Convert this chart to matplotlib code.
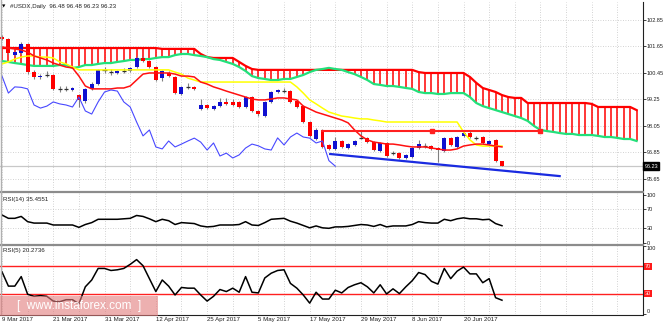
import matplotlib
matplotlib.use("Agg")
import matplotlib.pyplot as plt
from matplotlib.patches import Rectangle
from matplotlib.lines import Line2D
import numpy as np

plt.rcParams['font.family'] = ['Liberation Sans', 'DejaVu Sans']

# ---- daily USDX bars ----
opens = [102.08, 101.99, 101.26, 101.36, 101.76, 100.49, 100.27, 100.40, 100.36, 99.73,
         99.72, 99.68, 99.45, 99.18, 99.73, 99.95, 100.59, 100.50, 100.45, 100.54,
         100.54, 100.72, 101.13, 100.99, 100.72, 100.22, 100.45, 100.27, 99.50, 99.82,
         99.82, 98.82, 99.00, 98.82, 98.95, 99.14, 99.14, 99.14, 98.91, 99.36,
         98.73, 98.50, 99.14, 99.59, 99.65, 99.63, 99.18, 98.95, 98.23, 97.46,
         97.87, 97.19, 97.01, 97.37, 97.05, 97.19, 97.51, 97.51, 97.32, 96.92,
         97.28, 96.83, 96.83, 96.60, 96.65, 97.05, 97.14, 97.14, 97.05, 96.92,
         97.51, 97.10, 97.60, 97.73, 97.51, 97.55, 97.23, 97.42, 96.48]
highs = [102.15, 102.05, 101.45, 101.85, 101.82, 100.60, 100.40, 100.52, 100.42, 99.85,
         99.86, 99.82, 99.50, 99.78, 100.02, 100.64, 100.70, 100.62, 100.60, 100.68,
         100.74, 101.20, 101.20, 101.04, 100.78, 100.60, 100.52, 100.32, 99.88, 100.00,
         99.86, 99.27, 99.05, 99.00, 99.30, 99.30, 99.25, 99.20, 99.42, 99.40,
         98.78, 99.20, 99.65, 99.74, 99.78, 99.68, 99.22, 99.00, 98.28, 97.95,
         97.92, 97.24, 97.55, 97.42, 97.28, 97.42, 97.80, 97.56, 97.37, 97.32,
         97.33, 96.92, 96.88, 96.78, 97.10, 97.40, 97.26, 97.19, 97.10, 97.55,
         97.56, 97.60, 97.87, 97.80, 97.60, 97.60, 97.42, 97.46, 96.48]
lows = [101.94, 101.30, 101.20, 101.30, 100.40, 100.20, 100.20, 100.26, 99.66, 99.60,
        99.62, 99.62, 98.91, 99.10, 99.68, 99.90, 100.45, 100.38, 100.40, 100.44,
        100.48, 100.68, 100.94, 100.66, 100.08, 100.10, 100.26, 99.48, 99.44, 99.72,
        99.68, 98.78, 98.80, 98.76, 98.90, 99.00, 98.95, 98.86, 98.86, 98.68,
        98.52, 98.45, 99.10, 99.55, 99.55, 99.10, 98.86, 98.18, 97.55, 97.42,
        97.05, 96.96, 96.96, 97.05, 97.00, 97.14, 97.44, 97.28, 96.92, 96.88,
        96.64, 96.74, 96.55, 96.56, 96.60, 97.00, 97.05, 96.96, 96.42, 96.88,
        97.14, 97.05, 97.55, 97.50, 97.42, 97.23, 97.19, 96.42, 96.23]
closes = [101.99, 101.36, 101.40, 101.76, 100.49, 100.27, 100.31, 100.38, 99.73, 99.71,
          99.74, 99.77, 99.23, 99.73, 99.95, 100.59, 100.57, 100.48, 100.54, 100.56,
          100.68, 101.13, 100.99, 100.72, 100.13, 100.54, 100.31, 99.54, 99.82, 99.80,
          99.73, 99.00, 98.86, 98.95, 99.14, 99.05, 99.00, 98.91, 99.36, 98.73,
          98.59, 99.14, 99.59, 99.68, 99.63, 99.14, 98.91, 98.23, 97.60, 97.87,
          97.10, 97.01, 97.37, 97.10, 97.23, 97.37, 97.50, 97.32, 96.96, 97.28,
          96.69, 96.82, 96.60, 96.74, 97.05, 97.23, 97.15, 97.01, 96.96, 97.51,
          97.19, 97.55, 97.73, 97.55, 97.50, 97.28, 97.37, 96.48, 96.23]

date_bars = [0, 8, 16, 24, 32, 40, 48, 56, 64, 72]
date_labels = ["9 Mar 2017", "21 Mar 2017", "31 Mar 2017", "12 Apr 2017", "25 Apr 2017",
               "5 May 2017", "17 May 2017", "29 May 2017", "8 Jun 2017", "20 Jun 2017"]

# ---- Ichimoku Kinko Hyo (9, 26, 52) ----
tenkan = [101.63, 101.58, 101.54, 101.49, 101.40, 101.22, 101.13, 101.04, 100.90, 100.81,
          100.72, 100.68, 100.31, 99.86, 99.73, 99.73, 99.73, 99.73, 99.77, 99.77,
          99.86, 100.13, 100.40, 100.45, 100.45, 100.45, 100.45, 100.40, 100.31, 100.31,
          100.27, 100.04, 99.95, 99.82, 99.73, 99.63, 99.54, 99.45, 99.36, 99.27,
          99.23, 99.23, 99.27, 99.32, 99.32, 99.27, 99.23, 98.95, 98.82, 98.68,
          98.59, 98.50, 98.41, 98.32, 98.19, 97.87, 97.60, 97.42, 97.32, 97.28,
          97.23, 97.23, 97.19, 97.14, 97.10, 97.10, 97.10, 97.05, 97.01, 96.96,
          96.96, 97.01, 97.14, 97.19, 97.23, 97.23, 97.19, 97.14, 97.10]
kijun = [100.86, 100.95, 101.08, 101.17, 101.22, 101.22, 101.17, 101.17, 101.13, 100.95,
         100.86, 100.72, 100.59, 100.59, 100.59, 100.59, 100.59, 100.59, 100.59, 100.59,
         100.59, 100.59, 100.59, 100.59, 100.59, 100.59, 100.59, 100.49, 100.40, 100.22,
         100.13, 100.04, 100.04, 100.04, 100.04, 100.04, 100.04, 100.04, 100.04, 100.04,
         100.04, 100.04, 100.04, 100.04, 100.04, 100.04, 99.82, 99.54, 99.23, 99.05,
         98.86, 98.68, 98.59, 98.50, 98.46, 98.41, 98.37, 98.37, 98.32, 98.28,
         98.23, 98.23, 98.23, 98.23, 98.23, 98.23, 98.23, 98.23, 98.23, 98.23,
         98.23, 98.23, 97.78, 97.42, 97.19, 97.14, 97.14, 97.14, 97.14]
# leading spans, already projected 26 bars ahead (bar 0 .. bar 99)
senkou_a = [100.99, 100.95, 100.90, 100.86, 100.81, 100.77, 100.77, 100.77, 100.77, 100.81,
            100.81, 100.68, 100.72, 100.81, 100.81, 100.86, 100.90, 100.90, 100.95, 100.99,
            101.04, 101.04, 101.08, 101.08, 101.13, 101.17, 101.17, 101.26, 101.31, 101.31,
            101.26, 101.22, 101.17, 101.08, 101.04, 100.95, 100.86, 100.72, 100.54, 100.31,
            100.22, 100.18, 100.13, 100.13, 100.18, 100.18, 100.27, 100.36, 100.49, 100.59,
            100.63, 100.68, 100.63, 100.59, 100.49, 100.40, 100.27, 100.13, 99.95, 99.91,
            99.86, 99.86, 99.82, 99.77, 99.73, 99.59, 99.54, 99.54, 99.50, 99.50,
            99.54, 99.54, 99.54, 99.36, 99.09, 98.95, 98.86, 98.77, 98.68, 98.59,
            98.50, 98.41, 98.28, 98.05, 97.87, 97.82, 97.78, 97.73, 97.69, 97.69,
            97.64, 97.64, 97.64, 97.60, 97.55, 97.55, 97.51, 97.46, 97.46, 97.37]
senkou_b = [101.58, 101.58, 101.58, 101.58, 101.58, 101.58, 101.58, 101.58, 101.58, 101.58,
            101.58, 101.58, 101.58, 101.58, 101.58, 101.58, 101.58, 101.58, 101.58, 101.58,
            101.58, 101.58, 101.58, 101.58, 101.58, 101.54, 101.54, 101.54, 101.54, 101.54,
            101.54, 101.31, 101.17, 101.13, 101.13, 101.13, 101.13, 100.95, 100.77, 100.63,
            100.59, 100.59, 100.59, 100.59, 100.59, 100.59, 100.59, 100.59, 100.59, 100.59,
            100.59, 100.59, 100.59, 100.59, 100.59, 100.59, 100.59, 100.59, 100.59, 100.59,
            100.59, 100.59, 100.59, 100.59, 100.59, 100.49, 100.45, 100.45, 100.45, 100.45,
            100.45, 100.45, 100.45, 100.27, 100.00, 99.77, 99.68, 99.59, 99.45, 99.36,
            99.32, 99.32, 99.09, 99.09, 99.09, 99.09, 99.09, 99.09, 99.09, 99.09,
            99.09, 99.09, 99.05, 98.91, 98.91, 98.91, 98.91, 98.91, 98.91, 98.77]
chikou_shift = 26

# ---- oscillators ----
rsi14 = [58, 51, 51, 55, 44, 41, 41, 41, 37, 37,
         37, 37, 32, 38, 42, 49, 49, 49, 49, 50,
         51, 57, 55, 50, 44, 49, 46, 38, 42, 41,
         40, 35, 33, 34, 37, 37, 37, 38, 44, 37,
         36, 42, 49, 50, 51, 45, 41, 36, 31, 35,
         31, 30, 33, 33, 34, 36, 38, 37, 34, 38,
         33, 35, 35, 35, 38, 44, 42, 41, 41, 49,
         46, 50, 52, 50, 50, 48, 49, 40, 35.4551]
rsi5 = [62, 41, 41, 55, 29, 26, 27, 26, 19, 18,
        21, 21, 15, 40, 50, 67, 67, 64, 65, 67,
        73, 80, 71, 52, 33, 50, 41, 28, 39, 38,
        38, 28, 19, 26, 36, 33, 38, 32, 55, 32,
        31, 53, 60, 64, 65, 45, 38, 28, 16, 32,
        22, 22, 35, 31, 39, 43, 46, 40, 31, 43,
        29.5, 37, 30, 40, 49, 61, 58, 48, 44, 67,
        52, 63, 69, 59, 59, 46, 52, 24, 20.2736]
rsi_levels = [30, 70]

# ---- drawn objects: (bar, price) anchors ----
resistance_bars = [49.9, 83.9]
resistance_price = 97.82
resistance_marks = [67.1, 83.9]
support_bars = [51.2, 87.0]
support_prices = [96.78, 95.78]

price_ticks = [95.65, 96.85, 98.05, 99.25, 100.45, 101.65, 102.85]
last_price = closes[-1]

# ---- colours ----
BULL = '#1010D0'
BEAR = '#FF0000'
WICK = '#808080'
DOJI = '#303030'
TENKAN = '#FF1010'
KIJUN = '#FFFF00'
SPAN_A = '#22E07A'
SPAN_B = '#FF0000'
CHIKOU = '#4848FF'
GRID = '#C4C4C4'
SEP = '#8C8C8C'
FS = 4.4
AXFS = 4.0

W, H = 665, 325
fig = plt.figure(figsize=(W / 100, H / 100), dpi=100)
fig.patch.set_facecolor('white')


def rect(x0, y0, x1, y1):
    return [x0 / W, 1 - y1 / H, (x1 - x0) / W, (y1 - y0) / H]


ax = fig.add_axes(rect(0, 2, 643, 190))
ax14 = fig.add_axes(rect(0, 193, 643, 244))
ax5 = fig.add_axes(rect(0, 246, 643, 314))

XLIM = (-0.31, 100.0)
vgrid = list(range(0, 100, 4))
for a in (ax, ax14, ax5):
    a.set_xlim(*XLIM)
    a.set_facecolor('white')
    for s in ('top', 'left', 'bottom'):
        a.spines[s].set_visible(False)
    a.spines['right'].set_color('#202020')
    a.spines['right'].set_linewidth(0.8)
    a.set_xticks(vgrid)
    a.tick_params(axis='x', bottom=False, labelbottom=False)
    a.grid(True, axis='x', color=GRID, linestyle=(0, (1, 2)), linewidth=0.6)
    a.yaxis.tick_right()
    a.tick_params(axis='y', right=True, length=2.0, width=0.6, pad=0.8,
                  labelsize=AXFS, colors='#202020')
    a.set_axisbelow(True)

# ---------------- main price panel ----------------
ax.set_ylim(95.15, 103.665)
ax.set_yticks(price_ticks)
ax.set_yticklabels([f"{p:.2f}" for p in price_ticks])
ax.grid(True, axis='y', color=GRID, linestyle=(0, (1, 2)), linewidth=0.6)

xa = np.arange(len(senkou_a))
ax.vlines(xa, senkou_a, senkou_b, color=SPAN_B, linewidth=1.1, zorder=2)
ax.plot(xa, senkou_b, color=SPAN_B, linewidth=1.6, zorder=3)
ax.plot(xa, senkou_a, color=SPAN_A, linewidth=1.6, zorder=3)

ax.axhline(last_price, color='#C8C8C8', linewidth=0.9, zorder=2)

xb = np.arange(len(closes))
o = np.array(opens)
c = np.array(closes)
hi = np.array(highs)
lo = np.array(lows)
ax.vlines(xb, lo, hi, color=WICK, linewidth=0.8, zorder=4)
doji = np.abs(c - o) < 0.03
body_col = np.where(c >= o, BULL, BEAR)
ax.bar(xb[~doji], np.abs(c - o)[~doji], bottom=np.minimum(o, c)[~doji], width=0.62,
       color=body_col[~doji], linewidth=0, zorder=5)
ax.hlines(c[doji], xb[doji] - 0.33, xb[doji] + 0.33, color=DOJI, linewidth=0.9, zorder=5)

ax.plot(xb, kijun, color=KIJUN, linewidth=1.1, zorder=6)
ax.plot(xb, tenkan, color=TENKAN, linewidth=1.1, zorder=6)
ax.plot(xb[:-chikou_shift], closes[chikou_shift:], color=CHIKOU, linewidth=0.8, zorder=6)

ax.plot(resistance_bars, [resistance_price] * 2, color='#FF2020', linewidth=1.5, zorder=7)
ax.plot(resistance_marks, [resistance_price] * 2, linestyle='none', marker='s',
        markersize=2.2, color='#FF2020', zorder=7)
ax.plot(support_bars, support_prices, color='#1A2BE0', linewidth=1.6, zorder=7)

ax.annotate(f"{last_price:.2f}", xy=(1, last_price), xycoords=('axes fraction', 'data'),
            xytext=(1.0, 0), textcoords='offset points', ha='left', va='center',
            fontsize=AXFS, color='white', annotation_clip=False, zorder=10,
            bbox=dict(boxstyle='square,pad=0.25', facecolor='black', edgecolor='black'))

ax.text(0.003, 0.985, "\u25BC", transform=ax.transAxes, fontsize=3.2, va='top',
        ha='left', color='black', family='DejaVu Sans')
ax.text(0.016, 0.99, f"#USDX,Daily  {opens[-1]:.2f} {highs[-1]:.2f} {lows[-1]:.2f} {closes[-1]:.2f}",
        transform=ax.transAxes, fontsize=FS, va='top', ha='left', color='#202020')

# ---------------- RSI(14) ----------------
ax14.set_ylim(-3.0, 104.3)
ax14.set_yticks([0, 30, 70, 100])
for lvl in rsi_levels:
    ax14.axhline(lvl, color=GRID, linestyle=(0, (1, 2)), linewidth=0.6, zorder=1)
ax14.plot(xb, rsi14, color='black', linewidth=1.1, zorder=4)
ax14.text(0.004, 0.93, f"RSI(14) {rsi14[-1]:.4f}", transform=ax14.transAxes,
          fontsize=FS, va='top', ha='left', color='#202020')

# ---------------- RSI(5) ----------------
ax5.set_ylim(0, 100)
ax5.set_yticks([0, 30, 70, 100])
ax5.set_yticklabels(['0', '', '', '100'])
for lbl, va in zip(ax5.get_yticklabels(), ['bottom', 'center', 'center', 'top']):
    lbl.set_va(va)
for lvl in rsi_levels:
    ax5.axhline(lvl, color='#FF2020', linewidth=1.0, zorder=2)
    ax5.annotate(f"{lvl}", xy=(1, lvl), xycoords=('axes fraction', 'data'),
                 xytext=(1.4, 0), textcoords='offset points', ha='left', va='center',
                 fontsize=AXFS, color='#FFE0E0', annotation_clip=False,
                 bbox=dict(boxstyle='square,pad=0.15', facecolor='#FF1A1A', edgecolor='none'))
ax5.plot(xb, rsi5, color='black', linewidth=1.1, zorder=4)
ax5.text(0.004, 0.97, f"RSI(5) {rsi5[-1]:.4f}", transform=ax5.transAxes,
         fontsize=FS, va='top', ha='left', color='#202020')

# date scale under the last panel
for b, lab in zip(date_bars, date_labels):
    ax5.annotate(lab, xy=(b, 0), xycoords=('data', 'axes fraction'),
                 xytext=(0, -2.2), textcoords='offset points', ha='left', va='top',
                 fontsize=FS, color='#202020', annotation_clip=False)

# panel separators and frame
for y in (191.5, 245.0):
    fig.add_artist(Line2D([0, 643 / W], [1 - y / H] * 2, transform=fig.transFigure,
                          color=SEP, linewidth=1.6))
fig.add_artist(Line2D([0, 643 / W], [1 - 314.5 / H] * 2, transform=fig.transFigure,
                      color='#202020', linewidth=0.8))
fig.add_artist(Line2D([0.5 / W, 0.5 / W], [1 - 314 / H, 1], transform=fig.transFigure,
                      color='#B0B0B0', linewidth=1.0))

# site banner
fig.add_artist(Rectangle((0, 1 - 316 / H), 158 / W, 20 / H, transform=fig.transFigure,
                         facecolor='#E27C7C', alpha=0.6, edgecolor='none', zorder=20))
fig.text(79 / W, 1 - 306 / H, "[  www.instaforex.com  ]", ha='center', va='center',
         fontsize=8.5, color='white', zorder=21)

fig.savefig('out.png', dpi=100, facecolor='white')
